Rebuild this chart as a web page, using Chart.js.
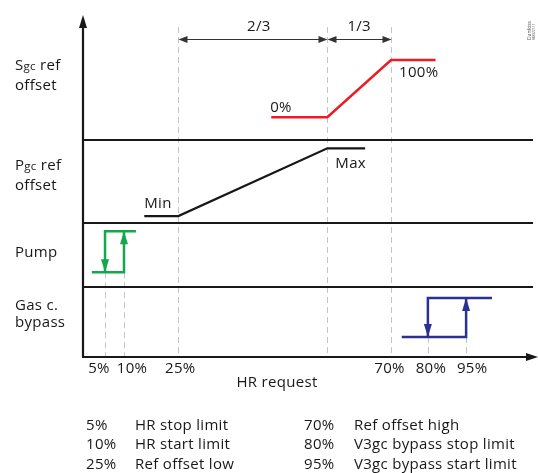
<!DOCTYPE html>
<html>
<head>
<meta charset="utf-8">
<script src="https://cdn.jsdelivr.net/npm/chart.js@4/dist/chart.umd.min.js"></script>
<style>
  html, body { margin: 0; padding: 0; background: #fff; }
  #wrap { width: 538px; height: 473px; }
</style>
</head>
<body>
<div id="wrap"><canvas id="chart" width="538" height="473"></canvas></div>
<script>
// HR request breakpoints (%)
const tickValues = [5, 10, 25, 70, 80, 95];
const tickLabels = ['5%', '10%', '25%', '70%', '80%', '95%'];
const splitValue = 55; // 25% + 2/3 of the way to 70%

// Sgc ref offset (0..100 %)
const sgcX = [43.7, 55, 70, 83];
const sgcY = [0, 0, 100, 100];

// Pgc ref offset (0 = Min, 1 = Max)
const pgcX = [15.6, 25, 55, 63.9];
const pgcY = [0, 0, 1, 1];

// Pump on/off hysteresis
const pumpOnX = [2, 10, 10];
const pumpOnY = [0, 0, 1];
const pumpOffX = [13.3, 5, 5];
const pumpOffY = [1, 1, 0];

// Gas cooler bypass on/off hysteresis
const bypassOnX = [72.9, 95, 95];
const bypassOnY = [0, 0, 1];
const bypassOffX = [96.8, 80, 80];
const bypassOffY = [1, 1, 0];

const legendLeftValues = ['5%', '10%', '25%'];
const legendLeftTexts = ['HR stop limit', 'HR start limit', 'Ref offset low'];
const legendRightValues = ['70%', '80%', '95%'];
const legendRightTexts = ['Ref offset high', 'V3gc bypass stop limit', 'V3gc bypass start limit'];

// the HR axis is schematic, not to scale: piecewise mapping of % to axis fraction
const xKnots = [0, 5, 10, 25, 55, 70, 80, 95, 100];
const xFrac = [0, 0.0484, 0.0901, 0.2095, 0.537, 0.677, 0.758, 0.842, 1];

function interp(v, from, to) {
  if (v <= from[0]) return to[0];
  for (let i = 1; i < from.length; i++) {
    if (v <= from[i]) {
      const t = (v - from[i - 1]) / (from[i] - from[i - 1]);
      return to[i - 1] + t * (to[i] - to[i - 1]);
    }
  }
  return to[to.length - 1];
}

class SchematicScale extends Chart.LinearScale {
  getPixelForValue(value) {
    return this.left + interp(value, xKnots, xFrac) * this.width;
  }
  getValueForPixel(pixel) {
    return interp((pixel - this.left) / this.width, xFrac, xKnots);
  }
}
SchematicScale.id = 'schematic';
SchematicScale.defaults = Chart.LinearScale.defaults;
Chart.register(SchematicScale);

const pts = (xs, ys) => xs.map((x, i) => ({x: x, y: ys[i]}));

const FONT = '"Open Sans", sans-serif';
const INK = '#1a1718';

function line(ctx, x1, y1, x2, y2) {
  ctx.beginPath();
  ctx.moveTo(x1, y1);
  ctx.lineTo(x2, y2);
  ctx.stroke();
}

function arrowHead(ctx, tx, ty, angle, len, half) {
  ctx.save();
  ctx.translate(tx, ty);
  ctx.rotate(angle);
  ctx.beginPath();
  ctx.moveTo(0, 0);
  ctx.lineTo(-len, -half);
  ctx.lineTo(-len, half);
  ctx.closePath();
  ctx.fill();
  ctx.restore();
}

function subLabel(ctx, x, y, big, sub, rest) {
  ctx.font = '15px ' + FONT;
  ctx.fillText(big, x, y);
  let w = ctx.measureText(big).width;
  ctx.font = '11.5px ' + FONT;
  ctx.fillText(sub, x + w, y);
  w += ctx.measureText(sub).width;
  ctx.font = '15px ' + FONT;
  ctx.fillText(rest, x + w, y);
}

const diagram = {
  id: 'diagram',
  beforeDatasetsDraw(chart) {
    const {ctx, chartArea: a, scales: s} = chart;
    const px = v => Math.round(s.x.getPixelForValue(v)) + 0.5;
    ctx.save();

    // dashed guides
    ctx.strokeStyle = '#c4c4c4';
    ctx.lineWidth = 1;
    ctx.setLineDash([6, 4]);
    [5, 10].forEach(v => line(ctx, px(v), s.yPump.getPixelForValue(0), px(v), a.bottom));
    [25, splitValue, 70].forEach(v => line(ctx, px(v), a.top + 12, px(v), a.bottom));
    [80, 95].forEach(v => line(ctx, px(v), s.yBypass.getPixelForValue(0), px(v), a.bottom));
    ctx.setLineDash([]);

    // band separators
    ctx.strokeStyle = INK;
    ctx.lineWidth = 1.8;
    [s.yPgc.top, s.yPump.top, s.yBypass.top].forEach(y => line(ctx, a.left, y, a.right - 5, y));

    // axes
    ctx.lineWidth = 2.2;
    ctx.fillStyle = INK;
    line(ctx, a.left, a.bottom, a.left, a.top + 8);
    line(ctx, a.left - 1, a.bottom, a.right - 8, a.bottom);
    arrowHead(ctx, a.left, a.top, -Math.PI / 2, 13, 4);
    arrowHead(ctx, a.right, a.bottom, 0, 12, 4);

    // 2/3 and 1/3 span arrows
    const ya = a.top + 24.5;
    ctx.strokeStyle = '#333';
    ctx.fillStyle = '#333';
    ctx.lineWidth = 1;
    [[25, splitValue], [splitValue, 70]].forEach(([v1, v2]) => {
      const x1 = px(v1), x2 = px(v2);
      line(ctx, x1 + 4, ya, x2 - 4, ya);
      arrowHead(ctx, x1, ya, Math.PI, 9, 3.5);
      arrowHead(ctx, x2, ya, 0, 9, 3.5);
    });
    ctx.restore();
  },
  afterDatasetsDraw(chart) {
    const {ctx, chartArea: a, scales: s} = chart;
    const px = v => s.x.getPixelForValue(v);
    ctx.save();

    // arrowheads at the end of the hysteresis lines
    chart.data.datasets.forEach((ds, i) => {
      if (!ds.arrowEnd) return;
      const el = chart.getDatasetMeta(i).data;
      const p = el[el.length - 1], q = el[el.length - 2];
      ctx.fillStyle = ds.borderColor;
      arrowHead(ctx, p.x, p.y, Math.atan2(p.y - q.y, p.x - q.x), 13, 4);
    });

    ctx.fillStyle = INK;
    ctx.textBaseline = 'alphabetic';
    ctx.textAlign = 'left';
    ctx.letterSpacing = '0.3px';

    // band labels
    subLabel(ctx, 15, 70, 'S', 'gc', ' ref');
    ctx.fillText('offset', 15, 89.5);
    subLabel(ctx, 15, 169.5, 'P', 'gc', ' ref');
    ctx.fillText('offset', 15, 189.5);
    ctx.fillText('Pump', 15, 257);
    ctx.fillText('Gas c.', 15, 309.5);
    ctx.fillText('bypass', 15, 327);

    // point labels
    const sgc = chart.getDatasetMeta(0).data;
    const pgc = chart.getDatasetMeta(1).data;
    ctx.fillText('0%', sgc[0].x - 1, sgc[0].y - 5.5);
    ctx.fillText('100%', sgc[2].x + 8, sgc[2].y + 17.5);
    ctx.fillText('Min', pgc[0].x, pgc[0].y - 8.5);
    ctx.fillText('Max', pgc[2].x + 8, pgc[2].y + 19.5);
    ctx.textAlign = 'center';
    ctx.fillText('2/3', (px(25) + px(splitValue)) / 2 + 6, a.top + 16);
    ctx.fillText('1/3', (px(splitValue) + px(70)) / 2, a.top + 16);

    // HR axis tick labels (nudged apart where crowded)
    const nudge = [-6, 8, 2, -1.5, 3, 6];
    tickValues.forEach((v, i) => ctx.fillText(tickLabels[i], px(v) + nudge[i], a.bottom + 15.5));
    ctx.fillText('HR request', 277, a.bottom + 30);

    // breakpoint legend
    ctx.textAlign = 'left';
    [429.5, 449, 468.5].forEach((y, i) => {
      ctx.fillText(legendLeftValues[i], 86, y);
      ctx.fillText(legendLeftTexts[i], 135, y);
      ctx.fillText(legendRightValues[i], 304, y);
      ctx.fillText(legendRightTexts[i], 354, y);
    });

    // tiny drawing reference
    ctx.letterSpacing = '0px';
    ctx.save();
    ctx.translate(531, 40);
    ctx.rotate(-Math.PI / 2);
    ctx.font = '5px ' + FONT;
    ctx.fillStyle = '#555';
    ctx.fillText('Danfoss', 0, 0);
    ctx.font = '3px ' + FONT;
    ctx.fillText('84B3227.11', 0, 4);
    ctx.restore();

    ctx.restore();
  }
};

const lineStyle = {
  borderWidth: 2.5,
  pointRadius: 0,
  tension: 0,
  fill: false,
  borderCapStyle: 'butt',
  borderJoinStyle: 'miter'
};

new Chart(document.getElementById('chart'), {
  type: 'line',
  data: {
    datasets: [
      {...lineStyle, label: 'Sgc ref offset', data: pts(sgcX, sgcY), borderColor: '#ed1c24', yAxisID: 'ySgc'},
      {...lineStyle, label: 'Pgc ref offset', data: pts(pgcX, pgcY), borderColor: INK, borderWidth: 2.2, yAxisID: 'yPgc'},
      {...lineStyle, label: 'Pump on', data: pts(pumpOnX, pumpOnY), borderColor: '#13a84b', yAxisID: 'yPump', arrowEnd: true},
      {...lineStyle, label: 'Pump off', data: pts(pumpOffX, pumpOffY), borderColor: '#13a84b', yAxisID: 'yPump', arrowEnd: true},
      {...lineStyle, label: 'Bypass on', data: pts(bypassOnX, bypassOnY), borderColor: '#2b3092', yAxisID: 'yBypass', arrowEnd: true},
      {...lineStyle, label: 'Bypass off', data: pts(bypassOffX, bypassOffY), borderColor: '#2b3092', yAxisID: 'yBypass', arrowEnd: true}
    ]
  },
  options: {
    responsive: false,
    devicePixelRatio: 1,
    animation: false,
    events: [],
    layout: { padding: { left: 83, top: 15, right: 0, bottom: 116 } },
    plugins: { legend: { display: false }, tooltip: { enabled: false } },
    scales: {
      x: { type: 'schematic', min: 0, max: 100, display: false },
      ySgc: { type: 'linear', position: 'left', stack: 'bands', stackWeight: 125, weight: 4, min: -39.6, max: 178.5, display: false },
      yPgc: { type: 'linear', position: 'left', stack: 'bands', stackWeight: 83, weight: 3, min: -0.103, max: 1.123, display: false },
      yPump: { type: 'linear', position: 'left', stack: 'bands', stackWeight: 64, weight: 2, min: -0.359, max: 1.202, display: false },
      yBypass: { type: 'linear', position: 'left', stack: 'bands', stackWeight: 70, weight: 1, min: -0.513, max: 1.282, display: false }
    }
  },
  plugins: [diagram]
});
</script>
</body>
</html>
